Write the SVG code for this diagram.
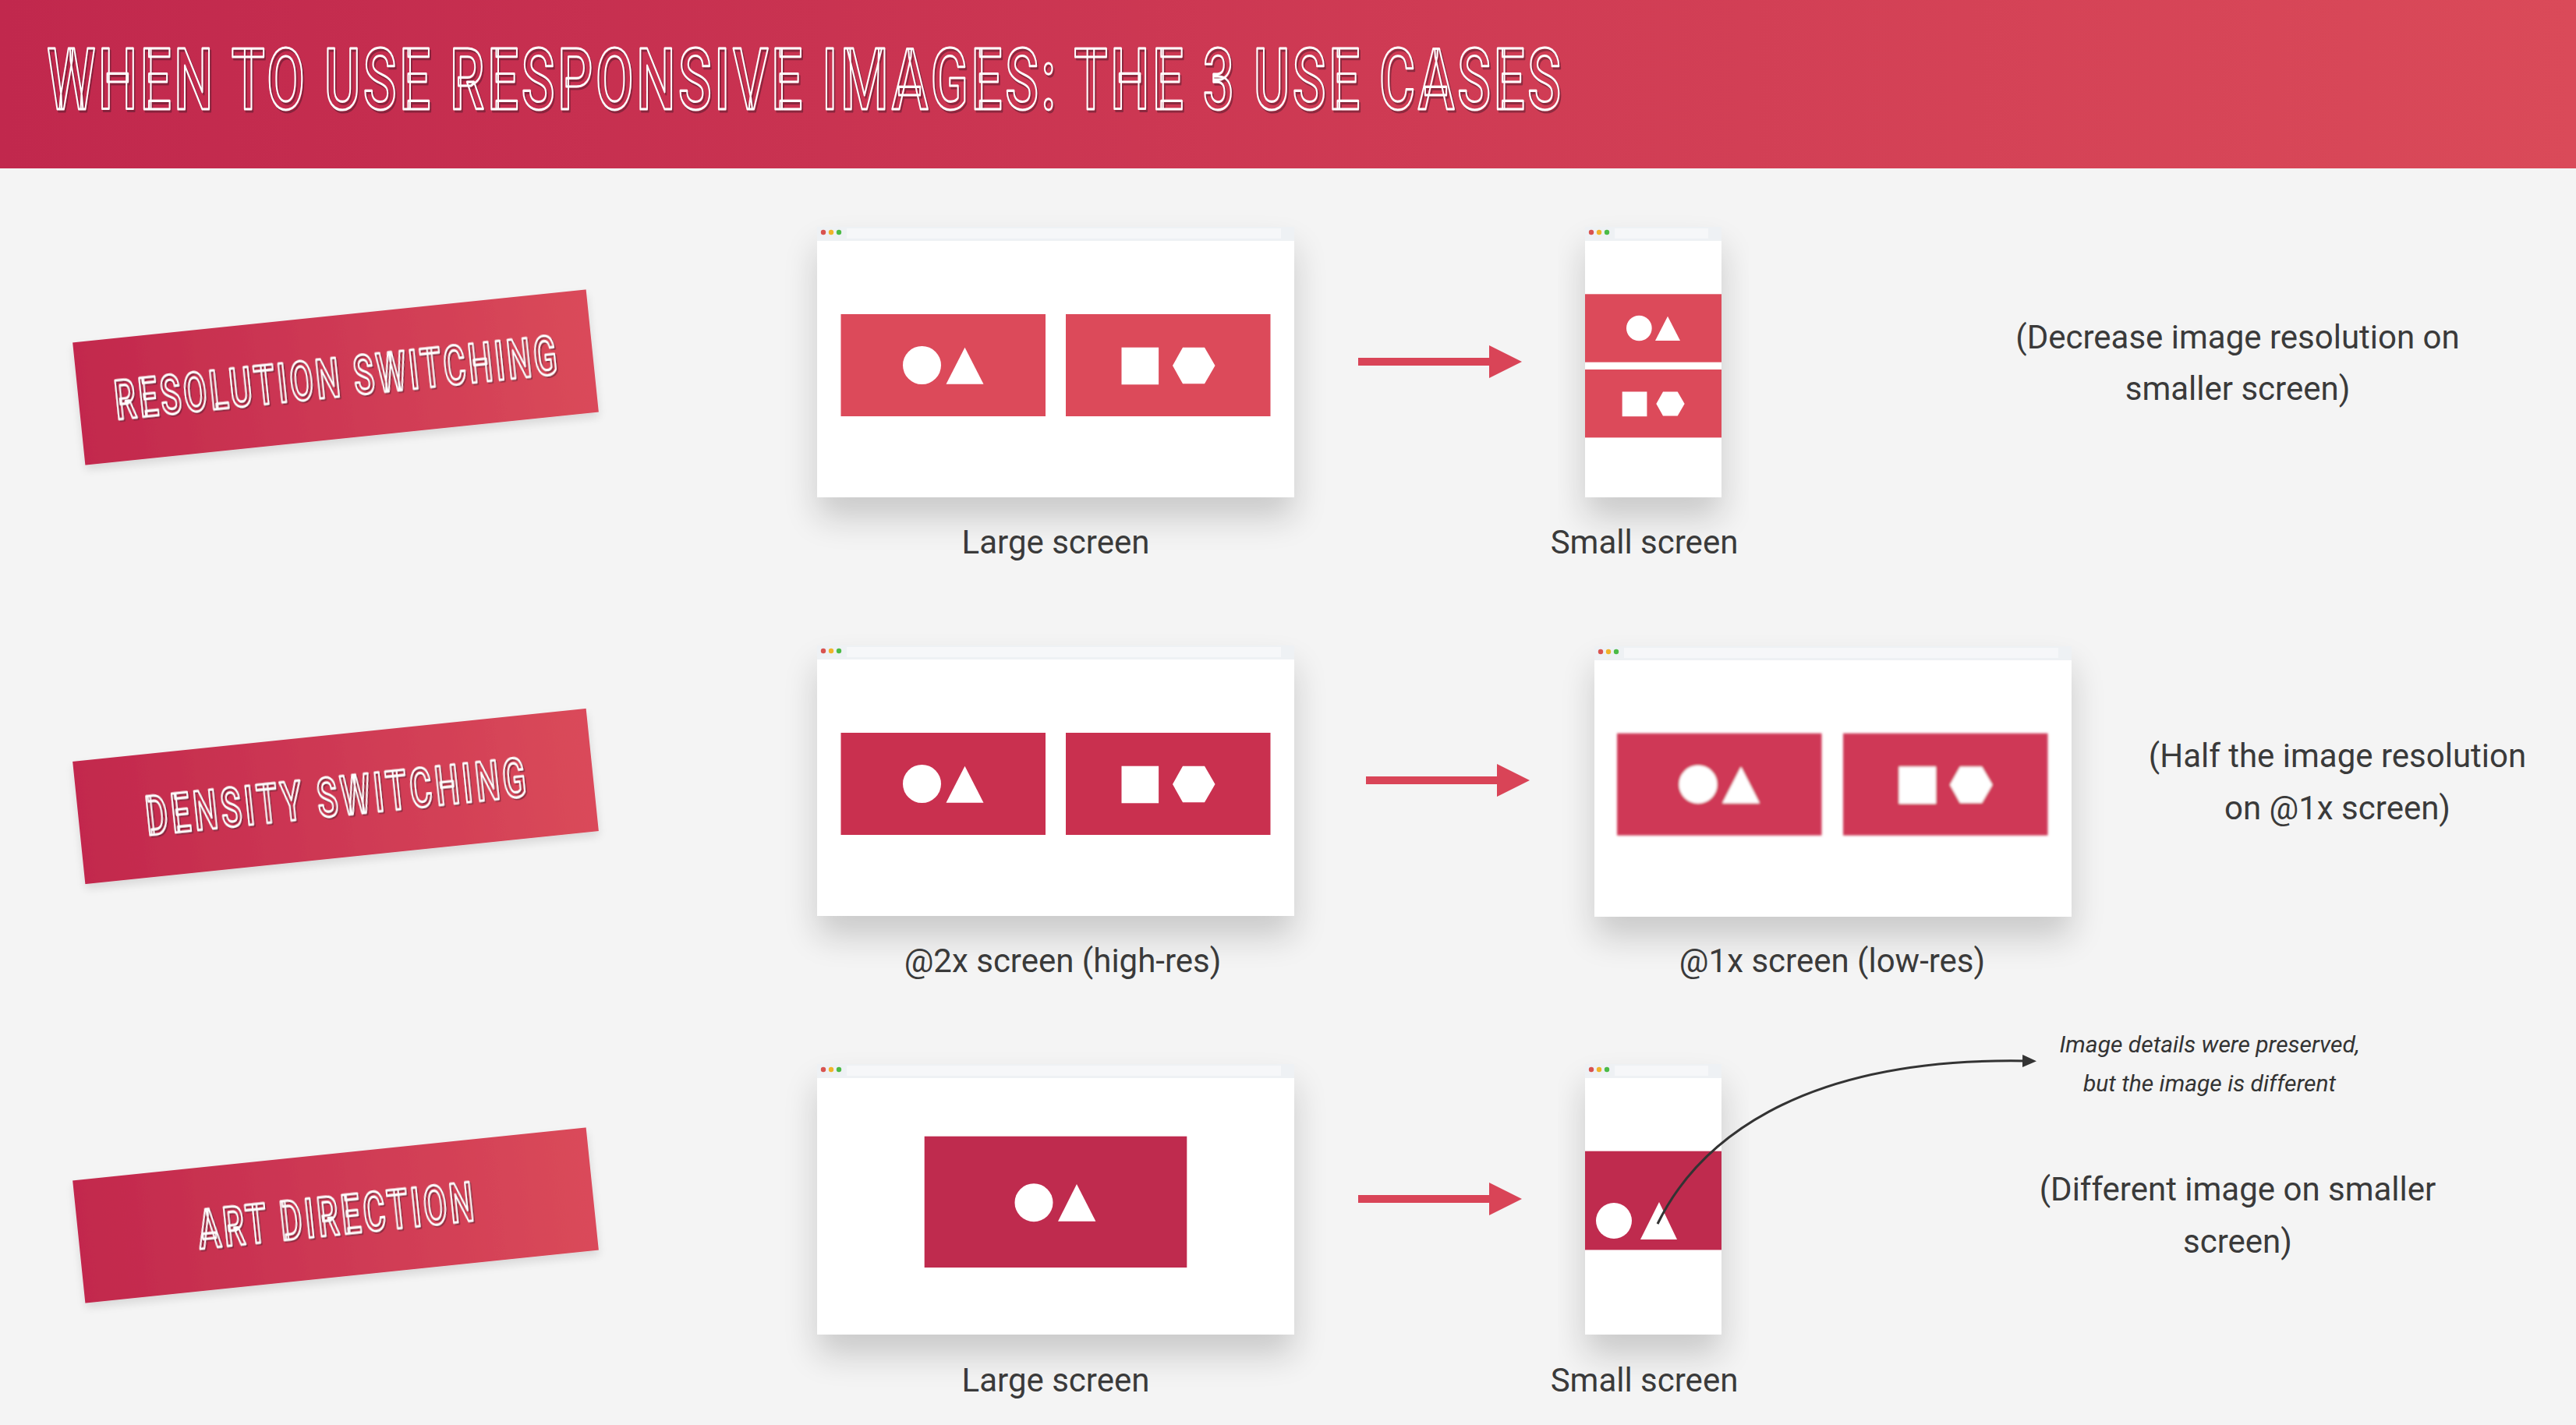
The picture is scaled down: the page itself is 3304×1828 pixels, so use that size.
<svg xmlns="http://www.w3.org/2000/svg" width="3304" height="1828" viewBox="0 0 3304 1828">
  <defs>
    <linearGradient id="hdrGrad" x1="0" y1="0" x2="1" y2="0">
      <stop offset="0" stop-color="#c1284d"/>
      <stop offset="1" stop-color="#da4a59"/>
    </linearGradient>
    <linearGradient id="tagGrad" x1="0" y1="0" x2="1" y2="0">
      <stop offset="0" stop-color="#c2284d"/>
      <stop offset="1" stop-color="#da4a5a"/>
    </linearGradient>
    <filter id="winShadow" x="-20%" y="-20%" width="140%" height="150%">
      <feGaussianBlur in="SourceAlpha" stdDeviation="22"/>
      <feOffset dy="26" result="b"/>
      <feComponentTransfer><feFuncA type="linear" slope="0.18"/></feComponentTransfer>
      <feMerge><feMergeNode/><feMergeNode in="SourceGraphic"/></feMerge>
    </filter>
    <filter id="tagShadow" x="-10%" y="-20%" width="120%" height="150%">
      <feGaussianBlur in="SourceAlpha" stdDeviation="6"/>
      <feOffset dy="6"/>
      <feComponentTransfer><feFuncA type="linear" slope="0.12"/></feComponentTransfer>
      <feMerge><feMergeNode/><feMergeNode in="SourceGraphic"/></feMerge>
    </filter>
    <filter id="lowRes" x="-5%" y="-5%" width="110%" height="110%">
      <feGaussianBlur stdDeviation="1.6"/>
    </filter>
    <marker id="bigHead" markerUnits="userSpaceOnUse" viewBox="0 0 42 42" refX="0" refY="21" markerWidth="42" markerHeight="42" orient="auto">
      <path d="M0,0 L42,21 L0,42 Z" fill="#d94457"/>
    </marker>
    <marker id="smallHead" markerUnits="userSpaceOnUse" viewBox="0 0 18 16" refX="4" refY="8" markerWidth="18" markerHeight="16" orient="auto">
      <path d="M0,0 L18,8 L0,16 Z" fill="#333"/>
    </marker>
    <!-- picture with circle + triangle, 262.5 x 131 -->
    <g id="picA">
      <rect width="262.5" height="131"/>
      <circle cx="104" cy="65.5" r="24.5" fill="#fff"/>
      <polygon points="135,89.7 159,42.7 183,89.7" fill="#fff"/>
    </g>
    <!-- picture with square + hexagon, 262.5 x 131 -->
    <g id="picB">
      <rect width="262.5" height="131"/>
      <rect x="71.5" y="42.7" width="47.6" height="47.6" fill="#fff"/>
      <polygon points="137,66 150,42.7 178,42.7 191.5,66 178,89.3 150,89.3" fill="#fff"/>
    </g>
    <!-- browser chrome -->
    <g id="chromeLarge">
      <rect x="0" y="0" width="612" height="18" fill="#eef1f4"/>
      <rect x="38" y="2" width="557" height="13" fill="#f6f7f9"/>
      <circle cx="8" cy="7" r="3.2" fill="#d9534f"/>
      <circle cx="18" cy="7" r="3.2" fill="#f0b429"/>
      <circle cx="28" cy="7" r="3.2" fill="#4cbb47"/>
      <rect x="0" y="18" width="612" height="329" fill="#fff"/>
    </g>
    <g id="chromeSmall">
      <rect x="0" y="0" width="175" height="18" fill="#eef1f4"/>
      <rect x="38" y="2" width="120" height="13" fill="#f6f7f9"/>
      <circle cx="8" cy="7" r="3.2" fill="#d9534f"/>
      <circle cx="18" cy="7" r="3.2" fill="#f0b429"/>
      <circle cx="28" cy="7" r="3.2" fill="#4cbb47"/>
      <rect x="0" y="18" width="175" height="329" fill="#fff"/>
    </g>
  </defs>

  <style>
    .lbl { font-family: Roboto, "Liberation Sans", sans-serif; font-size: 42px; fill: #3a3a3a; text-anchor: middle; }
    .note { font-family: Roboto, "Liberation Sans", sans-serif; font-size: 30px; font-style: italic; fill: #333; text-anchor: middle; }
    .inline { font-family: Roboto, "Liberation Sans", sans-serif; font-weight: 500; fill: none; stroke: #fff; stroke-width: 2.6; stroke-linejoin: round; vector-effect: non-scaling-stroke; }
    .inlineShade { font-family: Roboto, "Liberation Sans", sans-serif; font-weight: 500; fill: none; stroke: #4a1a2a; stroke-opacity: 0.5; stroke-width: 2.6; stroke-linejoin: round; vector-effect: non-scaling-stroke; }
    .c1 { fill: #dc4a5a; }
    .c2 { fill: #c9304f; }
    .c2b { fill: #cf3956; }
    .c3 { fill: #bf2b4e; }
    .arrow { stroke: #d94457; stroke-width: 10; fill: none; marker-end: url(#bigHead); }
    .curve { stroke: #333; stroke-width: 3; fill: none; marker-end: url(#smallHead); }
  </style>

  <!-- page background -->
  <rect width="3304" height="1828" fill="#f4f4f4"/>

  <!-- header bar -->
  <g id="header">
    <rect width="3304" height="216" fill="url(#hdrGrad)"/>
    <g transform="scale(0.64,1)">
      <text class="inlineShade" x="97" y="143" font-size="110" textLength="3034" lengthAdjust="spacing">WHEN TO USE RESPONSIVE IMAGES: THE 3 USE CASES</text>
      <text class="inline" x="94" y="140" font-size="110" textLength="3034" lengthAdjust="spacing">WHEN TO USE RESPONSIVE IMAGES: THE 3 USE CASES</text>
    </g>
  </g>

  <!-- tilted case labels -->
  <g id="tag-resolution" transform="translate(430.5,484) rotate(-5.9)" filter="url(#tagShadow)">
    <rect x="-331" y="-79" width="662" height="158" fill="url(#tagGrad)"/>
    <g transform="scale(0.62,1)">
      <text class="inlineShade" x="2.5" y="27" font-size="70" text-anchor="middle" textLength="919" lengthAdjust="spacing">RESOLUTION SWITCHING</text>
      <text class="inline" x="0" y="25" font-size="70" text-anchor="middle" textLength="919" lengthAdjust="spacing">RESOLUTION SWITCHING</text>
    </g>
  </g>
  <g id="tag-density" transform="translate(430.5,1021.5) rotate(-5.9)" filter="url(#tagShadow)">
    <rect x="-331" y="-79" width="662" height="158" fill="url(#tagGrad)"/>
    <g transform="scale(0.62,1)">
      <text class="inlineShade" x="2.5" y="27" font-size="70" text-anchor="middle" textLength="790" lengthAdjust="spacing">DENSITY SWITCHING</text>
      <text class="inline" x="0" y="25" font-size="70" text-anchor="middle" textLength="790" lengthAdjust="spacing">DENSITY SWITCHING</text>
    </g>
  </g>
  <g id="tag-art" transform="translate(430.5,1559) rotate(-5.9)" filter="url(#tagShadow)">
    <rect x="-331" y="-79" width="662" height="158" fill="url(#tagGrad)"/>
    <g transform="scale(0.62,1)">
      <text class="inlineShade" x="2.5" y="27" font-size="70" text-anchor="middle" textLength="573" lengthAdjust="spacing">ART DIRECTION</text>
      <text class="inline" x="0" y="25" font-size="70" text-anchor="middle" textLength="573" lengthAdjust="spacing">ART DIRECTION</text>
    </g>
  </g>

  <!-- row 1: resolution switching -->
  <g id="r1-large">
    <use href="#chromeLarge" x="1048" y="291" filter="url(#winShadow)"/>
    <use href="#picA" class="c1" transform="translate(1078.5,403)"/>
    <use href="#picB" class="c1" transform="translate(1367,403)"/>
    <text class="lbl" x="1354" y="710">Large screen</text>
  </g>
  <g id="r1-small">
    <use href="#chromeSmall" x="2033" y="291" filter="url(#winShadow)"/>
    <use href="#picA" class="c1" transform="translate(2033,377.3) scale(0.6667)"/>
    <use href="#picB" class="c1" transform="translate(2033,474) scale(0.6667)"/>
    <text class="lbl" x="2109" y="710">Small screen</text>
  </g>
  <g id="r1-note">
    <text class="lbl" x="2870" y="447">(Decrease image resolution on</text>
    <text class="lbl" x="2870" y="513">smaller screen)</text>
  </g>

  <!-- row 2: density switching -->
  <g id="r2-large">
    <use href="#chromeLarge" x="1048" y="828" filter="url(#winShadow)"/>
    <use href="#picA" class="c2" transform="translate(1078.5,940)"/>
    <use href="#picB" class="c2" transform="translate(1367,940)"/>
    <text class="lbl" x="1363" y="1247">@2x screen (high-res)</text>
  </g>
  <g id="r2-small">
    <use href="#chromeLarge" x="2045" y="829" filter="url(#winShadow)"/>
    <g filter="url(#lowRes)">
      <use href="#picA" class="c2b" transform="translate(2074,940.7)"/>
      <use href="#picB" class="c2b" transform="translate(2364,940.7)"/>
    </g>
    <text class="lbl" x="2350" y="1247">@1x screen (low-res)</text>
  </g>
  <g id="r2-note">
    <text class="lbl" x="2998" y="984">(Half the image resolution</text>
    <text class="lbl" x="2998" y="1051">on @1x screen)</text>
  </g>

  <!-- row 3: art direction -->
  <g id="r3-large">
    <use href="#chromeLarge" x="1048" y="1365" filter="url(#winShadow)"/>
    <rect class="c3" x="1185.7" y="1457.7" width="336.6" height="168.3"/>
    <circle cx="1326" cy="1542.7" r="24.5" fill="#fff"/>
    <polygon points="1357,1566.7 1381,1519 1405.4,1566.7" fill="#fff"/>
    <text class="lbl" x="1354" y="1785">Large screen</text>
  </g>
  <g id="r3-small">
    <use href="#chromeSmall" x="2033" y="1365" filter="url(#winShadow)"/>
    <rect class="c3" x="2033" y="1476.7" width="175" height="126.7"/>
    <circle cx="2070" cy="1566" r="23" fill="#fff"/>
    <polygon points="2104,1590 2128,1542 2151,1590" fill="#fff"/>
    <text class="lbl" x="2109" y="1785">Small screen</text>
  </g>
  <g id="r3-note">
    <text class="note" x="2834" y="1350">Image details were preserved,</text>
    <text class="note" x="2834" y="1400">but the image is different</text>
    <text class="lbl" x="2870" y="1540">(Different image on smaller</text>
    <text class="lbl" x="2870" y="1607">screen)</text>
  </g>

  <!-- connectors -->
  <g id="connectors">
    <line class="arrow" x1="1742" y1="464" x2="1910" y2="464"/>
    <line class="arrow" x1="1752" y1="1001" x2="1920" y2="1001"/>
    <line class="arrow" x1="1742" y1="1538" x2="1910" y2="1538"/>
    <path class="curve" d="M2126,1570 C2175,1470 2300,1356 2598,1361"/>
  </g>
</svg>
